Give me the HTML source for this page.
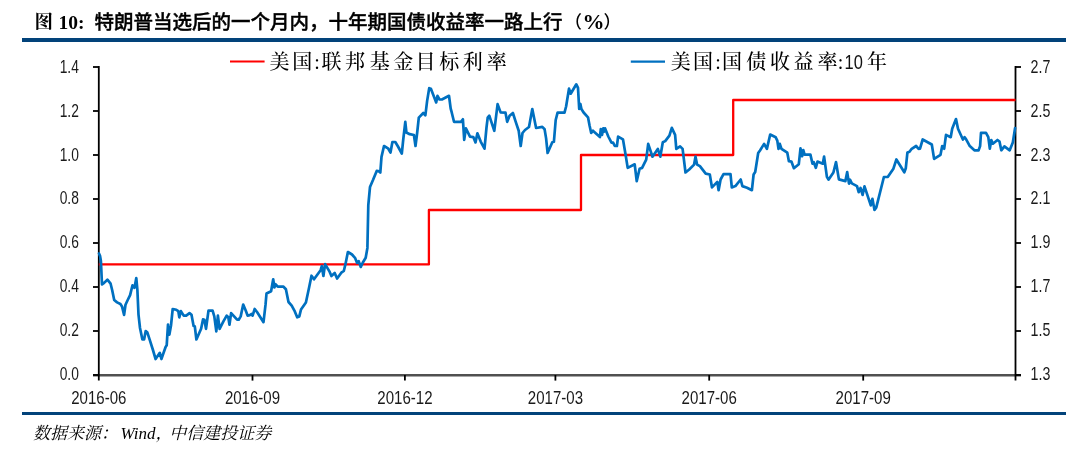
<!DOCTYPE html>
<html><head><meta charset="utf-8"><title>chart</title>
<style>html,body{margin:0;padding:0;background:#fff;}body{width:1090px;height:456px;overflow:hidden;}svg{display:block;will-change:transform;}</style>
</head><body>
<svg width="1090" height="456" viewBox="0 0 1090 456">
<rect x="22" y="38" width="1044" height="4" fill="#02437a"/>
<rect x="22" y="412" width="1044" height="3" fill="#02437a"/>
<line x1="93" y1="375.2" x2="1021" y2="375.2" stroke="#505050" stroke-width="2.5"/>
<g stroke="#000" stroke-width="1.8" fill="none"><line x1="98.8" y1="66.1" x2="98.8" y2="380.6" /><line x1="93" y1="375" x2="98.8" y2="375" /><line x1="93" y1="331" x2="98.8" y2="331" /><line x1="93" y1="287" x2="98.8" y2="287" /><line x1="93" y1="243" x2="98.8" y2="243" /><line x1="93" y1="199" x2="98.8" y2="199" /><line x1="93" y1="155" x2="98.8" y2="155" /><line x1="93" y1="111" x2="98.8" y2="111" /><line x1="93" y1="67" x2="98.8" y2="67" /><line x1="1015.5" y1="66.1" x2="1015.5" y2="380.6" /><line x1="1015.5" y1="375" x2="1021" y2="375" /><line x1="1015.5" y1="331" x2="1021" y2="331" /><line x1="1015.5" y1="287" x2="1021" y2="287" /><line x1="1015.5" y1="243" x2="1021" y2="243" /><line x1="1015.5" y1="199" x2="1021" y2="199" /><line x1="1015.5" y1="155" x2="1021" y2="155" /><line x1="1015.5" y1="111" x2="1021" y2="111" /><line x1="1015.5" y1="67" x2="1021" y2="67" /><line x1="252.5" y1="375.0" x2="252.5" y2="380.6" /><line x1="404.9" y1="375.0" x2="404.9" y2="380.6" /><line x1="555.4" y1="375.0" x2="555.4" y2="380.6" /><line x1="709.2" y1="375.0" x2="709.2" y2="380.6" /><line x1="863.2" y1="375.0" x2="863.2" y2="380.6" /></g>
<polyline fill="none" stroke="#ff0000" stroke-width="2.3" stroke-linejoin="round" points="98.8,264.4 428.9,264.4 428.9,210 581,210 581,155 733.2,155 733.2,100 1015.5,100"/>
<polyline fill="none" stroke="#0070c0" stroke-width="2.7" stroke-linejoin="round" stroke-linecap="round" points="99,253.5 100.1,256.1 100.9,261 102,284.5 104.1,282.9 107.4,279.7 110.6,283.7 112.2,290.2 114.2,300 117.1,302.4 120.4,304 122,306.4 124.1,314.9 125.5,304.8 127.7,300 130.1,295.1 132.5,285.3 134.5,287.8 136.3,278 137.4,290.2 138.5,314.6 140,328 142.4,339.5 144.1,339.5 145.7,331 147.4,332.6 149.9,340.4 152.8,349.5 155.6,359 159.8,352.8 161.4,359 165.6,347 166.7,345.3 168,324.7 169.4,334.6 171,325.5 172.7,309 176.3,309.8 178.3,311.1 179.3,317.3 180.9,311.1 183.7,315.6 186.2,315.6 189.5,313.1 191.5,314.8 193.6,326 194.8,326.3 196.4,339.5 201.1,328.8 203,319.4 204.4,319.7 206,328.8 208.5,310.6 212.6,310.6 214.3,316.4 216.3,331.3 217.9,315.6 219.6,328.8 223.4,321.4 226.7,315.6 228.3,317.3 229.5,324.7 231.1,313.1 234.1,316.4 237.1,319.7 238.7,319.7 240.7,316.4 243.2,304.5 245.7,310.6 247.6,315.6 249.8,315.1 251.4,314 252.6,315.6 254.7,309 257.2,312.3 263.5,322.2 265.5,304.9 266.5,293.5 271.1,291.2 273.2,279.3 274.4,287.5 275.5,284.2 277.7,286.7 283.5,286.7 285.9,289.2 288.5,302 291.7,305.7 294.4,310.6 297.2,317.3 299.3,316.4 301,309.5 305.9,302.5 309.1,287.5 311.5,275.7 314,279.3 318.2,273.5 320.6,270.2 321.8,266.1 323.4,276 325.1,264.1 329.7,271.9 331.4,276 334.7,273 337.1,278.5 341.3,272.7 343.8,271 345.4,264.4 347.9,252 352,254.5 355,257.8 357,262.8 358.6,261.1 360.8,266.9 362.7,262.8 365.7,257.8 367.4,247.9 368.3,205.1 370,187 373.1,179.8 376.7,170.9 379.1,171.4 380.3,172.6 381.5,156.9 384,146 388,148.3 390.5,152.5 392.4,142 395.3,142 398,146.5 401.8,153.5 403.3,139 405.3,121.8 406.4,132.5 409.7,134.2 413.9,135 415.5,146 417.2,132.5 418.8,117.6 423.3,113 425.4,115.2 427.1,101.1 429.2,88.2 430.9,88.7 436.2,102.4 437.5,95.8 439.5,99.5 441.9,99.5 449,95.8 450.7,108.6 451.8,112.7 454,121.8 460.9,121.8 462.9,119.3 464.2,139.9 465.9,128.4 470,136.6 473.3,137.1 475.5,142.4 477.4,133.3 480.7,141.6 484.5,148.7 486.5,127.5 487.7,117.6 489.3,115.7 494.3,130.8 497.6,104.1 500.6,112.4 505.5,112.7 507.2,121.8 509.6,115.7 512.9,113 515.4,120.9 518.7,130.8 520.7,146 522.5,133 525,130 529,127 532.3,109 536.1,128 542.3,126.9 544.6,129.2 546.1,138.4 547.6,153 552.3,142.2 553.9,141.8 555.7,120 557.6,112.6 564.5,112.6 566.1,106.5 569,88.7 570.7,93.7 576.3,84.3 578,87.9 579.2,108.8 580.4,104 581.4,109 583.6,112.5 588,117.3 589.5,125.3 591.2,133 592.9,130.7 599.9,137 600.8,129.1 602,134.9 603.3,128.3 604.1,131.6 605,128.3 608.3,136.5 611.5,142.7 613.1,142.7 614.8,146 616.9,146 618.1,136.6 623,139.4 625.6,154.7 627.7,167.9 634.7,164.3 636.7,181.1 639.6,168.7 642.1,167.9 646.2,159.6 648.2,143.9 652.5,156.7 657.8,148.9 660.3,156.7 662.8,142.3 665.2,141.1 669.4,135.7 671.8,127.9 675.1,134.9 676.3,148.9 680.1,146.4 682.6,148.9 685.5,172.5 689.2,169.5 694.1,164.6 695.5,156.7 697.1,164.6 699.9,166.2 705.7,173.7 709.8,174.5 712,187.4 717.3,181.9 718.6,190.2 720.6,179.5 723.5,174.2 730.5,174.2 731.8,187.4 735.4,186.1 740.7,179.5 742.4,186.1 747,187.7 751.9,190.2 753.6,174.5 755.2,172 758.2,153 760,150.5 764.1,143.9 766.9,148.9 770.2,134.5 775.7,137.3 777.3,140.6 778.5,148.9 779.8,143.9 781.5,148.9 787.3,152.7 788.9,161.2 791.4,161.6 793.9,168.2 798.8,164.2 800.5,148.4 802.1,156.3 803.3,150 804.6,154.6 810.4,154.6 812.5,163.7 813.7,162.1 815.8,167.8 817.5,161.6 822.8,163.7 824.1,156.6 826.9,176.9 828.5,179.7 833.4,172.5 836,162 838.9,179.4 845.4,181.1 847.2,172.1 849,183.6 850.1,179.7 851.8,183.4 857,186.1 858.7,192.2 860.5,187.9 862.6,194.9 864.5,186.3 870.8,205.4 872.4,198.8 874.5,210 876.3,207.4 883.9,177 887.9,176.8 893.4,168.7 896.4,159.5 904.3,172.3 905.8,168.2 907.4,152.6 909.5,151.8 911.7,148.8 916.1,146 918.6,148.8 920,148.7 922.7,139.5 929.5,143.2 931.8,144.5 934.1,158.9 940.5,154.8 942.2,146.1 944.2,148.7 946,134.9 950.7,137.2 952.2,128.8 956,119.1 958,128.8 962.9,139.5 964.5,137.2 966,139.1 969.8,146.1 974.4,150.3 978.6,150.3 980.1,146.1 981,132.9 986,132.9 988.3,137.2 989.8,148.7 991.3,140 992.9,143.7 997.5,140 999.5,141.5 1001.3,150.3 1004.4,146.4 1009.7,150.3 1012.8,142.6 1015.1,128"/>
<text x="78.9" y="72.8" text-anchor="end" textLength="19.2" lengthAdjust="spacingAndGlyphs" style="font-family:'Liberation Sans',sans-serif;font-size:18.4px;fill:#1a1a1a">1.4</text>
<text x="1030.6" y="72.8" textLength="19.8" lengthAdjust="spacingAndGlyphs" style="font-family:'Liberation Sans',sans-serif;font-size:18.4px;fill:#1a1a1a">2.7</text>
<text x="78.9" y="116.65" text-anchor="end" textLength="19.2" lengthAdjust="spacingAndGlyphs" style="font-family:'Liberation Sans',sans-serif;font-size:18.4px;fill:#1a1a1a">1.2</text>
<text x="1030.6" y="116.65" textLength="19.8" lengthAdjust="spacingAndGlyphs" style="font-family:'Liberation Sans',sans-serif;font-size:18.4px;fill:#1a1a1a">2.5</text>
<text x="78.9" y="160.5" text-anchor="end" textLength="19.2" lengthAdjust="spacingAndGlyphs" style="font-family:'Liberation Sans',sans-serif;font-size:18.4px;fill:#1a1a1a">1.0</text>
<text x="1030.6" y="160.5" textLength="19.8" lengthAdjust="spacingAndGlyphs" style="font-family:'Liberation Sans',sans-serif;font-size:18.4px;fill:#1a1a1a">2.3</text>
<text x="78.9" y="204.35" text-anchor="end" textLength="19.2" lengthAdjust="spacingAndGlyphs" style="font-family:'Liberation Sans',sans-serif;font-size:18.4px;fill:#1a1a1a">0.8</text>
<text x="1030.6" y="204.35" textLength="19.8" lengthAdjust="spacingAndGlyphs" style="font-family:'Liberation Sans',sans-serif;font-size:18.4px;fill:#1a1a1a">2.1</text>
<text x="78.9" y="248.2" text-anchor="end" textLength="19.2" lengthAdjust="spacingAndGlyphs" style="font-family:'Liberation Sans',sans-serif;font-size:18.4px;fill:#1a1a1a">0.6</text>
<text x="1030.6" y="248.2" textLength="19.8" lengthAdjust="spacingAndGlyphs" style="font-family:'Liberation Sans',sans-serif;font-size:18.4px;fill:#1a1a1a">1.9</text>
<text x="78.9" y="292.05" text-anchor="end" textLength="19.2" lengthAdjust="spacingAndGlyphs" style="font-family:'Liberation Sans',sans-serif;font-size:18.4px;fill:#1a1a1a">0.4</text>
<text x="1030.6" y="292.05" textLength="19.8" lengthAdjust="spacingAndGlyphs" style="font-family:'Liberation Sans',sans-serif;font-size:18.4px;fill:#1a1a1a">1.7</text>
<text x="78.9" y="335.9" text-anchor="end" textLength="19.2" lengthAdjust="spacingAndGlyphs" style="font-family:'Liberation Sans',sans-serif;font-size:18.4px;fill:#1a1a1a">0.2</text>
<text x="1030.6" y="335.9" textLength="19.8" lengthAdjust="spacingAndGlyphs" style="font-family:'Liberation Sans',sans-serif;font-size:18.4px;fill:#1a1a1a">1.5</text>
<text x="78.9" y="379.75" text-anchor="end" textLength="19.2" lengthAdjust="spacingAndGlyphs" style="font-family:'Liberation Sans',sans-serif;font-size:18.4px;fill:#1a1a1a">0.0</text>
<text x="1030.6" y="379.75" textLength="19.8" lengthAdjust="spacingAndGlyphs" style="font-family:'Liberation Sans',sans-serif;font-size:18.4px;fill:#1a1a1a">1.3</text>
<text x="71.2" y="403.8" textLength="55.2" lengthAdjust="spacingAndGlyphs" style="font-family:'Liberation Sans',sans-serif;font-size:18.4px;fill:#1a1a1a">2016-06</text>
<text x="224.9" y="403.8" textLength="55.2" lengthAdjust="spacingAndGlyphs" style="font-family:'Liberation Sans',sans-serif;font-size:18.4px;fill:#1a1a1a">2016-09</text>
<text x="377.3" y="403.8" textLength="55.2" lengthAdjust="spacingAndGlyphs" style="font-family:'Liberation Sans',sans-serif;font-size:18.4px;fill:#1a1a1a">2016-12</text>
<text x="527.8" y="403.8" textLength="55.2" lengthAdjust="spacingAndGlyphs" style="font-family:'Liberation Sans',sans-serif;font-size:18.4px;fill:#1a1a1a">2017-03</text>
<text x="681.6" y="403.8" textLength="55.2" lengthAdjust="spacingAndGlyphs" style="font-family:'Liberation Sans',sans-serif;font-size:18.4px;fill:#1a1a1a">2017-06</text>
<text x="835.6" y="403.8" textLength="55.2" lengthAdjust="spacingAndGlyphs" style="font-family:'Liberation Sans',sans-serif;font-size:18.4px;fill:#1a1a1a">2017-09</text>
<line x1="230" y1="61.5" x2="264.6" y2="61.5" stroke="#ff0000" stroke-width="2.2"/>
<line x1="630.8" y1="61.7" x2="665" y2="61.7" stroke="#0070c0" stroke-width="2.2"/>
<text x="279.4" y="68.5" text-anchor="middle" style="font-family:'Liberation Serif','Noto Serif CJK SC',serif;font-size:20px;font-weight:500;fill:#000">美</text>
<text x="302.3" y="68.5" text-anchor="middle" style="font-family:'Liberation Serif','Noto Serif CJK SC',serif;font-size:20px;font-weight:500;fill:#000">国</text>
<text x="317" y="68.5" text-anchor="middle" style="font-family:'Liberation Serif','Noto Serif CJK SC',serif;font-size:20px;font-weight:500;fill:#000">:</text>
<text x="331.4" y="68.5" text-anchor="middle" style="font-family:'Liberation Serif','Noto Serif CJK SC',serif;font-size:20px;font-weight:500;fill:#000">联</text>
<text x="355" y="68.5" text-anchor="middle" style="font-family:'Liberation Serif','Noto Serif CJK SC',serif;font-size:20px;font-weight:500;fill:#000">邦</text>
<text x="379.8" y="68.5" text-anchor="middle" style="font-family:'Liberation Serif','Noto Serif CJK SC',serif;font-size:20px;font-weight:500;fill:#000">基</text>
<text x="403.2" y="68.5" text-anchor="middle" style="font-family:'Liberation Serif','Noto Serif CJK SC',serif;font-size:20px;font-weight:500;fill:#000">金</text>
<text x="425.6" y="68.5" text-anchor="middle" style="font-family:'Liberation Serif','Noto Serif CJK SC',serif;font-size:20px;font-weight:500;fill:#000">目</text>
<text x="449.2" y="68.5" text-anchor="middle" style="font-family:'Liberation Serif','Noto Serif CJK SC',serif;font-size:20px;font-weight:500;fill:#000">标</text>
<text x="472.7" y="68.5" text-anchor="middle" style="font-family:'Liberation Serif','Noto Serif CJK SC',serif;font-size:20px;font-weight:500;fill:#000">利</text>
<text x="496.8" y="68.5" text-anchor="middle" style="font-family:'Liberation Serif','Noto Serif CJK SC',serif;font-size:20px;font-weight:500;fill:#000">率</text>
<text x="680.8" y="68.5" text-anchor="middle" style="font-family:'Liberation Serif','Noto Serif CJK SC',serif;font-size:20px;font-weight:500;fill:#000">美</text>
<text x="703.1" y="68.5" text-anchor="middle" style="font-family:'Liberation Serif','Noto Serif CJK SC',serif;font-size:20px;font-weight:500;fill:#000">国</text>
<text x="718.1" y="68.5" text-anchor="middle" style="font-family:'Liberation Serif','Noto Serif CJK SC',serif;font-size:20px;font-weight:500;fill:#000">:</text>
<text x="732" y="68.5" text-anchor="middle" style="font-family:'Liberation Serif','Noto Serif CJK SC',serif;font-size:20px;font-weight:500;fill:#000">国</text>
<text x="756.2" y="68.5" text-anchor="middle" style="font-family:'Liberation Serif','Noto Serif CJK SC',serif;font-size:20px;font-weight:500;fill:#000">债</text>
<text x="780.1" y="68.5" text-anchor="middle" style="font-family:'Liberation Serif','Noto Serif CJK SC',serif;font-size:20px;font-weight:500;fill:#000">收</text>
<text x="803.4" y="68.5" text-anchor="middle" style="font-family:'Liberation Serif','Noto Serif CJK SC',serif;font-size:20px;font-weight:500;fill:#000">益</text>
<text x="827.5" y="68.5" text-anchor="middle" style="font-family:'Liberation Serif','Noto Serif CJK SC',serif;font-size:20px;font-weight:500;fill:#000">率</text>
<text x="840.6" y="68.5" text-anchor="middle" style="font-family:'Liberation Serif','Noto Serif CJK SC',serif;font-size:20px;font-weight:500;fill:#000">:</text>
<text x="844.6" y="68.9" textLength="18.3" lengthAdjust="spacingAndGlyphs" style="font-family:'Liberation Sans',sans-serif;font-size:20.8px;fill:#111">10</text>
<text x="877.0" y="68.5" text-anchor="middle" style="font-family:'Liberation Serif','Noto Serif CJK SC',serif;font-size:20px;font-weight:500;fill:#000">年</text>
<text x="34.5" y="28" style="font-family:'Liberation Serif','Noto Serif CJK SC',serif;font-weight:bold;font-size:18.5px;fill:#000">图</text>
<text x="58.6" y="28.6" style="font-family:'Liberation Serif',serif;font-weight:bold;font-size:19.5px;fill:#000">10:</text>
<text x="94.5" y="28.7" style="font-family:'Liberation Sans','Noto Sans CJK SC',sans-serif;font-weight:500;font-size:19.5px;fill:#000;stroke:#000;stroke-width:0.4px">特朗普当选后的一个月内，十年期国债收益率一路上行</text>
<text x="564.5" y="27.6" style="font-family:'Liberation Sans','Noto Sans CJK SC',sans-serif;font-weight:500;font-size:17.5px;fill:#000">（</text>
<text x="582.6" y="28.6" style="font-family:'Liberation Serif',serif;font-weight:bold;font-size:22px;fill:#000">%</text>
<text x="603.6" y="27.6" style="font-family:'Liberation Sans','Noto Sans CJK SC',sans-serif;font-weight:500;font-size:17.5px;fill:#000">）</text>
<text x="33" y="439.3" style="font-family:'Liberation Serif','Noto Serif CJK SC',serif;font-style:italic;font-size:17px;fill:#000">数据来源：<tspan dx="2.6">Wind，</tspan><tspan dx="-3.4">中信建投证券</tspan></text>
</svg>
</body></html>
